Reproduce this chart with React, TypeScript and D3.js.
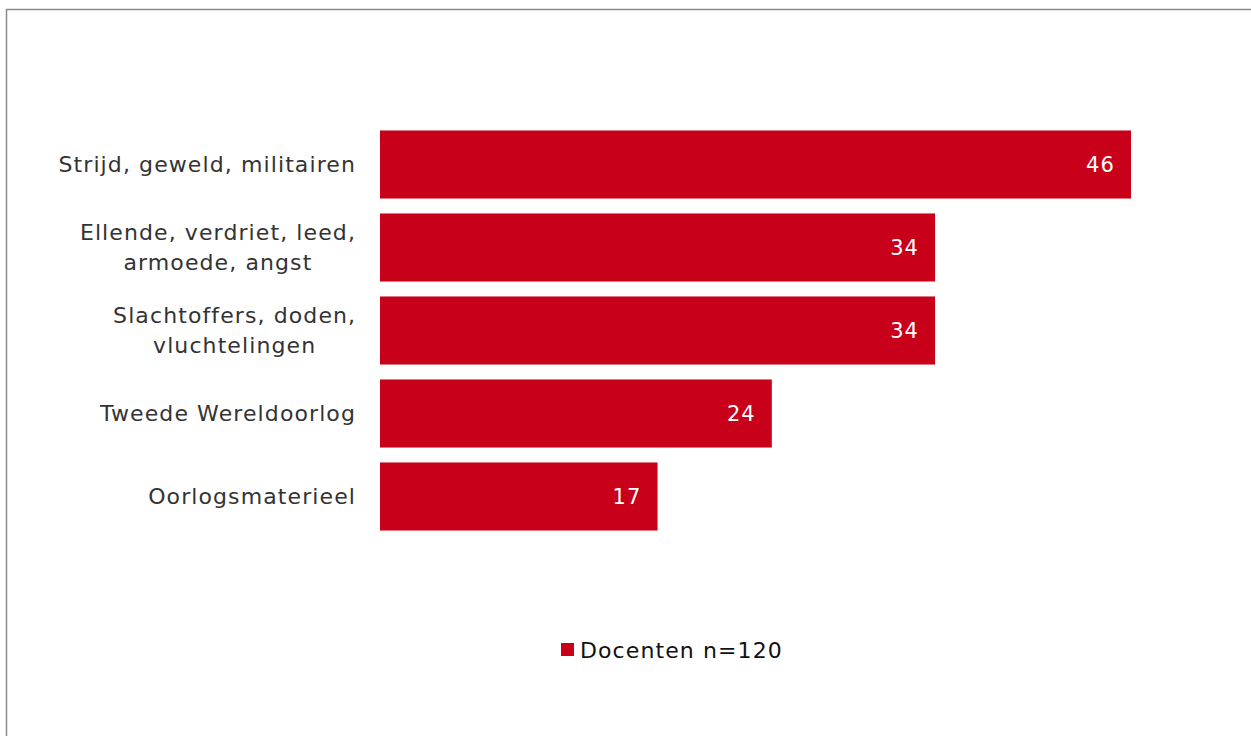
import React from "react";
import * as d3 from "d3";

const categories: string[][] = [
  ["Strijd, geweld, militairen"],
  ["Ellende, verdriet, leed,", "armoede, angst"],
  ["Slachtoffers, doden,", "vluchtelingen"],
  ["Tweede Wereldoorlog"],
  ["Oorlogsmaterieel"],
];
const values: number[] = [46, 34, 34, 24, 17];
const seriesName = "Docenten n=120";

const W = 1251;
const H = 736;
const FONT = "Verdana, 'DejaVu Sans', sans-serif";
const RED = "#C8001A";
const LS = 1.1;
const LABEL_RIGHT = 356;

function measure(text: string, size: number): number {
  if (typeof document === "undefined") return text.length * size * 0.6;
  const c = document.createElement("canvas").getContext("2d");
  if (!c) return text.length * size * 0.6;
  c.font = `${size}px ${FONT}`;
  return c.measureText(text).width + LS * text.length;
}

export default function App() {
  const x = d3.scaleLinear().domain([0, 46]).range([380, 1131]);
  const y = d3
    .scaleBand<number>()
    .domain(d3.range(values.length))
    .range([123, 538])
    .paddingInner(0.18)
    .paddingOuter(0.09);
  return (
    <svg
      width={W}
      height={H}
      style={{ position: "absolute", left: 0, top: 0, background: "#fff" }}
      fontFamily={FONT}
    >
      <rect x={6.5} y={9.5} width={W + 10} height={H + 10} fill="none" stroke="#8c8c8c" strokeWidth={1.5} />
      {values.map((v, i) => {
        const y0 = y(i)!;
        const bh = y.bandwidth();
        const cy = y0 + bh / 2;
        const lines = categories[i];
        const maxW = Math.max(...lines.map((l) => measure(l, 22)));
        const cx = LABEL_RIGHT - maxW / 2;
        return (
          <g key={i}>
            <rect x={x(0)} y={y0} width={x(v) - x(0)} height={bh} fill={RED} />
            <text x={x(v) - 16} y={cy} dy="0.36em" textAnchor="end" fill="#fff" fontSize={21} letterSpacing={LS}>
              {v}
            </text>
            {lines.map((l, j) => (
              <text
                key={j}
                x={lines.length > 1 ? cx : LABEL_RIGHT}
                y={cy + (j - (lines.length - 1) / 2) * 30}
                dy="0.36em"
                textAnchor={lines.length > 1 ? "middle" : "end"}
                fill="#333"
                fontSize={22}
                letterSpacing={LS}
              >
                {l}
              </text>
            ))}
          </g>
        );
      })}
      <rect x={561} y={643} width={13} height={13} fill={RED} />
      <text x={580} y={650} dy="0.36em" fill="#111" fontSize={22} letterSpacing={LS}>
        {seriesName}
      </text>
    </svg>
  );
}
